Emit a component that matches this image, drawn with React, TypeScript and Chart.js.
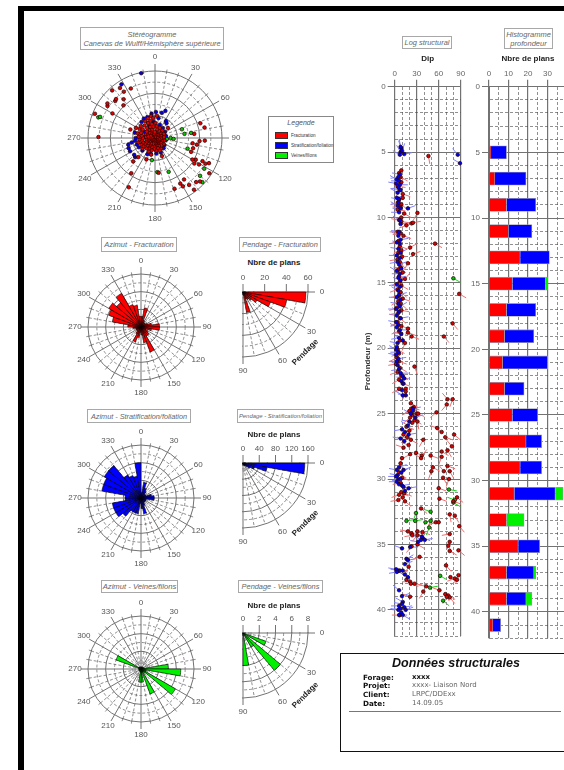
import React, { useEffect, useRef } from "react";
import { Chart, registerables } from "chart.js";
Chart.register(...registerables);

const FONT = '"Liberation Sans", Arial, sans-serif';
const GREY = "#727272";
const DASH = "#444444";
const RED = "#ff0000";
const BLUE = "#0000ff";
const GREEN = "#00f000";

// ---- Rose diagrams: count per 10 degree azimuth sector, 0..350
const azimuthLabels = ["0","10","20","30","40","50","60","70","80","90","100","110","120","130","140","150","160","170","180","190","200","210","220","230","240","250","260","270","280","290","300","310","320","330","340","350"];
const azimuthFracturation = [12,22,8,6,6,6,8,12,21,21,12,6,9,12,12,30,18,9,6,12,18,9,6,6,6,6,9,15,33,39,42,36,44,27,25,12];
const azimuthStratification = [6,18,12,9,6,6,6,12,15,15,6,6,6,6,6,9,18,12,6,18,18,18,27,33,33,33,18,18,45,45,48,48,30,27,25,40];
const azimuthVeines = [2,2,2,2,2,2,3,4,31,45,6,6,45,6,4,30,4,15,15,3,2,2,2,2,2,2,2,2,3,30,3,2,2,2,2,2];

// ---- Pendage quarter diagrams: count per 10 degree dip class, 0..80
const pendageFracturation = [58,41,27,15,10,8,7,19,3];
const pendageStratification = [152,60,30,20,12,8,6,5,4];
const pendageVeines = [0,0,3,0,6,2,0,0,4];

// ---- Stereogram poles: [azimuth, dip]
const stereoRed = [[318,86],[325,82],[326,75],[334,74],[315,74],[321,67],[316,61],[306,79],[304,77],[313,73],[300,66],[292,87],[271,76],[72,64],[78,68],[84,53],[94,60],[93,67],[98,51],[99,57],[105,53],[111,52],[120,58],[118,62],[123,63],[121,69],[116,71],[117,76],[115,80],[123,87],[137,81],[134,84],[145,68],[151,70],[144,78],[150,75],[143,87],[159,73],[208,75],[214,57],[223,43],[221,34],[202,31],[193,23],[159,26],[174,47],[289,35],[298,29],[52,22],
[350,30],[355,27],[5,30],[345,24],[340,28],[335,22],[330,26],[320,22],[310,25],[305,20],[300,24],[290,20],[285,24],[280,18],[275,22],[270,16],[265,21],[260,18],[255,23],[250,17],[245,20],[240,15],[235,19],[230,22],[225,14],[220,18],[215,12],[210,16],[205,20],[200,13],[195,17],[190,11],[185,15],[180,12],[175,17],[170,10],[165,14],[160,18],[155,12],[150,16],[145,9],[140,13],[130,11],[125,14],[115,10],[105,13],[95,8],[85,12],[75,9],[65,13],[55,10],[45,14],[35,11],[25,15],[15,12],[8,16],[2,20],[352,15],[347,19],[342,12],[337,16],[328,13],[322,17],[316,10],[308,14],[298,10],[292,13],[283,9],[276,12],[268,8],[262,11],[253,9],[247,12],[238,8],[232,11],[223,7],[217,9],[208,6],[198,8],[188,5],[178,7],[168,5],[152,6],[135,5],[110,6],[90,4],[70,5],[50,6],[30,5],[12,7],[358,8],[348,6],[332,7],[318,5],[302,6],[286,4],[272,5],[256,5],[241,4],[226,3],[196,3],[160,3],[120,2],[60,2],[340,3],[300,2]];
const stereoBlue = [[348,89],[328,85],[15,35],[21,39],[33,27],[38,25],[256,37],[249,38],[242,38],[259,32],[231,36],[226,37],
[352,33],[2,35],[10,27],[340,30],[330,30],[320,28],[285,28],[270,26],[262,27],[250,26],[240,25],[225,24],[205,24],[195,22],[175,21],[158,21],[140,18],[128,16],[100,15],[80,15],[58,16],[38,17],[20,19],[355,22],[335,18],[300,16],[275,15]];
const stereoGreen = [[290,81],[291,79],[72,38],[82,40],[82,49],[93,25],[90,21],[95,16],[108,46],[188,30],[176,46],[158,49],[133,87],[130,79],[122,78]];

// ---- Structural log: [depth, dip, azimuth]
const logRed = [[5.3,46,170],[6.4,9,200],[6.6,6,150],[6.9,8,120],[7.3,9,250],[7.6,4,100],[7.9,7,210],[8.2,11,110],[8.5,11,240],[8.6,6,150],[8.8,5,250],[9.0,9,130],[9.2,8,270],[9.4,4,100],[9.65,31,210],[9.7,13,120],[10.0,9,250],[10.3,9,100],[10.45,23,260],[10.4,25,80],[10.6,16,250],[10.2,6,280],[11.1,4,270],[11.4,12,110],[11.2,8,260],[11.8,5,250],[12,55,120],[12.3,21,60],[12.2,7,110],[12.5,9,250],[12.8,25,70],[12.7,5,120],[13.0,10,240],[13.2,4,260],[13.5,18,210],[13.4,7,140],[13.8,8,250],[14.0,5,110],[14.2,11,260],[14.5,6,120],[14.7,14,40],[14.9,7,240],[15.2,9,120],[15.5,4,250],[15.84,88,120],[15.7,8,130],[16.0,6,260],[16.2,11,110],[16.4,5,240],[16.6,8,130],[16.9,3,250],[17.1,9,100],[17.3,5,260],[17.7,7,130],[18.0,4,240],[18.1,79,140],[18.3,9,110],[18.5,18,200],[18.7,6,250],[18.8,18,110],[19.1,23,110],[19.1,67,140],[19.4,7,240],[19.6,14,200],[20.1,4,120],[20.4,6,250],[20.7,3,240],[21.0,6,110],[21.2,2,260],[21.4,27,160],[21.5,7,120],[21.8,4,250],[22.1,9,120],[22.4,6,240],[22.7,11,110],[23.1,6,240],[23.1,15,170],[23.3,15,200],[23.9,72,320],[23.9,79,200],[24.3,71,220],[24.9,57,230],[24.2,22,120],[24.5,26,150],[24.6,23,100],[24.8,20,240],[25.0,30,110],[25.1,24,150],[25.0,32,250],[25.3,21,230],[25.5,27,120],[25.6,31,170],[25.7,24,250],[26.1,58,290],[26.4,64,300],[26.8,69,110],[26.6,81,130],[26.0,16,110],[26.3,20,240],[26.6,12,130],[26.8,17,260],[27.0,39,210],[27.0,22,120],[27.4,19,290],[27.6,12,290],[28.0,29,110],[28.2,37,40],[28.4,36,300],[28.1,21,240],[28.4,10,200],[28.8,8,190],[28.2,49,110],[27.9,64,120],[27.8,72,150],[27.5,78,320],[28.3,64,200],[29.1,52,120],[29.4,50,200],[29.0,72,110],[29.4,75,150],[29.4,67,320],[29.9,66,150],[30.0,74,200],[29.5,6,130],[29.9,10,110],[30.3,8,260],[30.7,60,110],[31.0,9,120],[31.2,6,250],[31.1,13,110],[31.4,11,240],[31.5,61,110],[31.7,14,130],[31.6,5,260],[31.7,80,110],[31.4,85,130],[32.25,36,130],[33.3,56,250],[33.3,60,260],[32.7,75,170],[32.8,82,150],[33.6,88,140],[34.0,18,280],[34.15,23,100],[34.3,24,260],[34.0,31,120],[34.3,31,220],[34.05,38,110],[34.2,75,260],[34.8,75,200],[35.15,23,220],[35.0,31,120],[35.1,73,150],[35.5,75,120],[35.45,87,130],[35.95,34,250],[36.7,19,210],[37.7,16,120],[37.85,21,270],[38.0,22,110],[38.0,27,100],[36.6,70,140],[37.5,76,130],[37.6,82,250],[37.35,87,200],[37.7,85,230],[38.2,43,280],[38.6,39,210],[38.5,61,290],[38.8,69,150],[38.9,73,120],[39.05,75,140],[39.0,71,210],[39.0,21,290],[40.4,7,270]];
const logBlue = [[5.0,8,330],[4.7,9,340],[5.2,7,300],[4.9,10,20],[5.15,13,80],[4.6,8,350],[5.2,86,320],[5.85,89,300],[6.7,7,280],[6.9,5,260],[7.1,3,300],[7.2,6,270],[7.4,2,280],[7.5,7,90],[7.7,5,260],[7.9,8,280],[8.1,4,300],[8.5,3,70],[8.6,6,280],[8.9,5,260],[9.1,4,300],[9.3,8,270],[9.3,18,70],[9.6,6,270],[10.2,7,300],[10.5,8,80],[11.1,6,280],[11.4,5,300],[11.7,8,80],[11.9,3,260],[12.0,7,290],[12.4,5,280],[12.7,8,60],[12.9,3,270],[13.1,7,300],[13.4,4,260],[13.6,6,70],[13.9,9,280],[14.1,3,300],[14.3,7,270],[14.6,5,80],[14.8,8,290],[15.1,3,260],[15.3,7,280],[15.6,5,300],[15.9,6,75],[16.1,3,270],[16.3,8,290],[16.6,5,280],[16.8,7,60],[17.0,2,270],[17.2,6,300],[17.5,3,280],[17.7,8,80],[18.0,2,280],[18.2,5,260],[18.4,3,300],[18.6,7,90],[18.9,9,280],[19.2,6,260],[19.4,11,300],[19.6,4,280],[19.9,3,260],[20.1,2,300],[20.3,5,270],[20.5,2,280],[20.8,5,80],[21.0,3,270],[21.3,4,300],[21.6,6,260],[21.9,8,90],[22.1,11,290],[22.3,13,280],[22.5,9,70],[22.7,12,300],[23.2,10,260],[23.6,11,300],[23.6,15,280],[24.6,25,80],[24.8,25,260],[25.0,22,300],[25.3,28,70],[25.6,20,280],[25.9,18,300],[26.2,10,260],[26.4,14,70],[26.6,19,80],[26.9,8,280],[27.1,13,300],[29.1,6,70],[29.3,3,280],[29.5,9,60],[29.7,4,280],[29.8,2,270],[30.0,5,80],[30.0,8,260],[30.2,3,270],[30.4,6,300],[30.5,10,80],[30.6,12,100],[30.7,19,80],[29.3,12,70],[30.9,14,60],[34.5,38,110],[34.65,41,80],[34.65,36,300],[34.8,32,280],[34.4,37,300],[35.3,10,290],[35.2,21,90],[36.1,16,60],[36.2,18,80],[36.5,14,70],[37.0,5,280],[37.0,7,100],[36.9,2,280],[37.0,11,280],[37.1,3,260],[37.3,14,290],[37.5,18,300],[38.5,6,310],[38.95,10,70],[39.4,11,300],[39.55,10,280],[39.7,6,270],[39.8,13,80],[39.9,8,260],[40.0,5,280],[40.0,15,70],[40.2,9,300],[40.4,6,90],[40.4,11,120]];
const logGreen = [[14.65,80,120],[30.8,74,100],[31.8,80,120],[31.6,82,290],[32.6,29,200],[32.5,49,290],[33.2,16,80],[33.2,28,80],[33.3,42,70],[33.2,49,200],[33.7,47,200],[37.4,62,120],[38.3,48,80],[39.3,66,130]];

// ---- Histogram: number of planes per 2 m class
const histDepths = [5,7,9,11,13,15,17,19,21,23,25,27,29,31,33,35,37,39,41];
const histRed = [1,3,9,10,16,12,9,8,7,8,12,19,16,13,9,15,9,9,2];
const histBlue = [8,16,15,12,15,17,15,15,23,10,13,8,11,21,0,11,14,10,4];
const histGreen = [0,0,0,0,0,1,0,0,0,0,0,0,0,4,9,0,1,3,0];

const formation = [
  ["Forage:", "xxxx"],
  ["Projet:", "xxxx- Liaison Nord"],
  ["Client:", "LRPC/DDExx"],
  ["Date:", "14.09.05"],
];
const legendItems = [["Fracturation", RED], ["Stratification/foliation", BLUE], ["Veines/filons", GREEN]];

function ChartCanvas({ left, top, width, height, make }: any) {
  const ref = useRef<HTMLCanvasElement>(null);
  useEffect(() => {
    const c = new Chart(ref.current as HTMLCanvasElement, make());
    return () => c.destroy();
  }, []);
  return <canvas ref={ref} width={width} height={height} style={{ position: "absolute", left, top, width, height, display: "block" }} />;
}

function radialScale(max: number, step: number, binsPerTen: number, startAngle = 0) {
  return {
    type: "radialLinear",
    min: 0,
    max,
    startAngle,
    beginAtZero: true,
    ticks: { display: false, stepSize: step },
    pointLabels: { display: false },
    grid: {
      circular: true,
      color: (c: any) => (Math.round(c.tick.value / step) % 2 === 0 ? GREY : DASH),
      lineWidth: (c: any) => (Math.round(c.tick.value / step) % 2 === 0 ? 1 : 0.6),
    },
    border: { dash: (c: any) => (Math.round(c.tick.value / step) % 2 === 0 ? [] : [3, 2]) },
    angleLines: {
      display: true,
      color: (c: any) => (c.index % (3 * binsPerTen) === 0 ? GREY : DASH),
      lineWidth: (c: any) => (c.index % binsPerTen !== 0 ? 0 : c.index % (3 * binsPerTen) === 0 ? 1 : 0.6),
      borderDash: (c: any) => (c.index % (3 * binsPerTen) === 0 ? [] : [3, 2]),
    },
  };
}

function fullRoseDecor(binsPerTen: number, labelGap: number, spokeExt: number) {
  return {
    id: "decor",
    afterDraw(chart: any) {
      const s = chart.scales.r;
      const R = s.drawingArea;
      const ctx = chart.ctx;
      ctx.save();
      for (let deg = 0; deg < 360; deg += 10) {
        const i = (deg / 10) * binsPerTen;
        const major = deg % 30 === 0;
        const a = s.getPointPosition(i, R);
        const b = s.getPointPosition(i, R + (major ? spokeExt : 2.5));
        ctx.strokeStyle = major ? GREY : DASH;
        ctx.lineWidth = major ? 1 : 0.6;
        ctx.beginPath();
        ctx.moveTo(a.x, a.y);
        ctx.lineTo(b.x, b.y);
        ctx.stroke();
        if (major) {
          const t = s.getPointPosition(i, R + labelGap);
          ctx.fillStyle = "#555";
          ctx.font = `8px ${FONT}`;
          ctx.textAlign = "center";
          ctx.textBaseline = "middle";
          ctx.fillText(String(deg), t.x, t.y);
        }
      }
      ctx.restore();
    },
  };
}

function quarterDecor(axisValues: number[]) {
  return {
    id: "decor",
    beforeDraw(chart: any) {
      const s = chart.scales.r;
      const ctx = chart.ctx;
      ctx.save();
      ctx.beginPath();
      ctx.rect(s.xCenter - 1, s.yCenter - 1, s.drawingArea + 2, s.drawingArea + 2);
      ctx.clip();
    },
    afterDraw(chart: any) {
      const s = chart.scales.r;
      const R = s.drawingArea;
      const ctx = chart.ctx;
      ctx.restore();
      ctx.save();
      ctx.fillStyle = "#555";
      ctx.font = `8px ${FONT}`;
      ctx.textAlign = "center";
      ctx.textBaseline = "middle";
      ctx.strokeStyle = GREY;
      ctx.lineWidth = 1;
      [0, 3, 6, 9].forEach((i) => {
        const a = s.getPointPosition(i, R);
        const b = s.getPointPosition(i, R + 7);
        ctx.beginPath();
        ctx.moveTo(a.x, a.y);
        ctx.lineTo(b.x, b.y);
        ctx.stroke();
        const t = s.getPointPosition(i, R + 14);
        ctx.fillText(String(i * 10), t.x, t.y);
      });
      axisValues.forEach((v) => {
        const x = s.xCenter + s.getDistanceFromCenterForValue(v);
        ctx.beginPath();
        ctx.moveTo(x, s.yCenter);
        ctx.lineTo(x, s.yCenter - 8);
        ctx.stroke();
        ctx.fillText(String(v), x, s.yCenter - 14);
      });
      ctx.restore();
    },
  };
}

function roseConfig(values: number[], color: string) {
  return () => ({
    type: "polarArea",
    data: { labels: azimuthLabels, datasets: [{ data: values, backgroundColor: color, borderColor: "#000", borderWidth: 0.6 }] },
    options: {
      animation: false, responsive: false,
      layout: { padding: 30 },
      plugins: { legend: { display: false }, tooltip: { enabled: false } },
      scales: { r: radialScale(60, 10, 1) },
    },
    plugins: [fullRoseDecor(1, 13, 7)],
  });
}

function pendageConfig(values: number[], color: string, max: number, step: number, axisValues: number[]) {
  const padded = azimuthLabels.map((_, i) => (i < values.length ? values[i] : 0));
  return () => ({
    type: "polarArea",
    data: { labels: azimuthLabels, datasets: [{ data: padded, backgroundColor: color, borderColor: "#000", borderWidth: 0.6 }] },
    options: {
      animation: false, responsive: false,
      layout: { padding: 25 },
      plugins: { legend: { display: false }, tooltip: { enabled: false } },
      scales: { r: radialScale(max, step, 1, 90) },
    },
    plugins: [quarterDecor(axisValues)],
  });
}

const degreeLabels = Array.from({ length: 360 }, (_, i) => String(i));
function stereoLayers(points: number[][], color: string, label: string) {
  const layers: any[] = [];
  points.forEach(([az, dip]) => {
    let l = layers.find((d) => d[az % 360] === null);
    if (!l) {
      l = degreeLabels.map(() => null);
      layers.push(l);
    }
    l[az % 360] = dip;
  });
  return layers.map((data) => ({
    label, data, showLine: false, pointRadius: 1.8, pointBorderWidth: 0.7,
    pointBackgroundColor: color, pointBorderColor: "#200000", backgroundColor: "rgba(0,0,0,0)", borderColor: "rgba(0,0,0,0)",
  }));
}

const stereoConfig = () => ({
  type: "radar",
  data: {
    labels: degreeLabels,
    datasets: [...stereoLayers(stereoRed, "#e00000", "Fracturation"), ...stereoLayers(stereoGreen, "#00c800", "Veines/filons"), ...stereoLayers(stereoBlue, "#0000f0", "Stratification/foliation")],
  },
  options: {
    animation: false, responsive: false,
    layout: { padding: 30 },
    plugins: { legend: { display: false }, tooltip: { enabled: false } },
    scales: { r: radialScale(90, 15, 10) },
  },
  plugins: [fullRoseDecor(10, 14, 7)],
});

function tailDataset(points: number[][], color: string) {
  return {
    data: points.map((p) => ({ x: p[1], y: p[0] })),
    pointStyle: "dash", pointRadius: 8, pointBorderWidth: 1, pointBorderColor: color, clip: false,
    pointRotation: points.map((p) => p[2] - 90),
  };
}
function headDataset(points: number[][], color: string) {
  return {
    data: points.map((p) => ({ x: p[1], y: p[0] })),
    pointRadius: 1.8, pointBorderWidth: 0.7, pointBorderColor: "#200000", pointBackgroundColor: color, clip: false,
  };
}

function depthAxis(width: number, title?: string, stacked = false) {
  return {
    type: "linear", reverse: true, min: 0, max: 42, offset: false, stacked,
    afterFit: (s: any) => { s.width = width; },
    title: title ? { display: true, text: title, color: "#333", font: { size: 8, weight: "bold", family: FONT }, padding: { top: 3, bottom: 0 } } : { display: false },
    ticks: {
      stepSize: 1, autoSkip: false, padding: 2, color: "#666", font: { size: 8, family: FONT },
      callback: (v: number) => (v % 5 === 0 && v <= 40 ? String(v) : ""),
    },
    grid: {
      offset: false, tickLength: 7,
      color: (c: any) => (c.tick.value % 5 === 0 ? GREY : DASH),
      lineWidth: (c: any) => (c.tick.value % 5 === 0 ? 1 : 0.6),
      tickColor: (c: any) => (c.tick.value % 5 === 0 ? GREY : "rgba(0,0,0,0)"),
    },
    border: { color: GREY, dash: (c: any) => (c.tick && c.tick.value % 5 === 0 ? [] : [3, 2]) },
  };
}
function topAxis(max: number, step: number, major: number, title: string, height: number, stacked = false) {
  return {
    type: "linear", position: "top", min: 0, max, stacked,
    afterFit: (s: any) => { s.height = height; },
    title: { display: true, text: title, color: "#222", font: { size: 8, weight: "bold", family: FONT }, padding: { top: 4, bottom: 0 } },
    ticks: {
      stepSize: step, autoSkip: false, maxRotation: 0, padding: 1, color: "#666", font: { size: 8, family: FONT },
      callback: (v: number) => (v % major === 0 && (max === 90 || v < max) ? String(v) : ""),
    },
    grid: {
      tickLength: 7,
      color: (c: any) => (c.tick.value % major === 0 ? GREY : DASH),
      lineWidth: (c: any) => (c.tick.value % major === 0 ? 1.2 : 0.6),
      tickColor: (c: any) => (c.tick.value % major === 0 ? GREY : "rgba(0,0,0,0)"),
    },
    border: { color: GREY, dash: (c: any) => (c.tick && c.tick.value % major === 0 ? [] : [3, 2]) },
  };
}

const logConfig = () => ({
  type: "scatter",
  data: {
    datasets: [headDataset(logBlue, "#0000f0"), headDataset(logRed, "#d80000"), headDataset(logGreen, "#00c000"),
      tailDataset(logRed, "#f07070"), tailDataset(logBlue, "#8080ff"), tailDataset(logGreen, "#20d020")],
  },
  options: {
    animation: false, responsive: false,
    layout: { padding: { right: 9.3, bottom: 6 } },
    plugins: { legend: { display: false }, tooltip: { enabled: false } },
    scales: { x: topAxis(90, 10, 30, "Dip", 36.7), y: depthAxis(34.7, "Profondeur (m)") },
  },
});

const histConfig = () => {
  const ser = (vals: number[], color: string, label: string) => ({
    label, data: histDepths.map((d, i) => ({ x: vals[i], y: d })), backgroundColor: color,
    borderColor: "#9a9ab0", borderWidth: 0.8, barThickness: 13,
  });
  return {
    type: "bar",
    data: { datasets: [ser(histRed, RED, "Fracturation"), ser(histBlue, BLUE, "Stratification/foliation"), ser(histGreen, GREEN, "Veines/filons")] },
    options: {
      indexAxis: "y", animation: false, responsive: false,
      layout: { padding: { bottom: 6 } },
      plugins: { legend: { display: false }, tooltip: { enabled: false } },
      scales: { x: topAxis(40, 5, 10, "Nbre de plans", 36.7, true), y: depthAxis(29, undefined, true) },
    },
  };
};

function TitleBox({ l, t, w, h, lines, size = 7.4 }: any) {
  return (
    <div style={{ position: "absolute", left: l, top: t, width: w, height: h, boxSizing: "border-box", border: "1.5px solid #a8a8a8", background: "#fff", display: "flex", flexDirection: "column", alignItems: "center", justifyContent: "center", font: `italic ${size}px/9px ${FONT}`, color: "#666", whiteSpace: "nowrap" }}>
      {lines.map((s: string) => <div key={s}>{s}</div>)}
    </div>
  );
}
function Txt({ x, y, children, style }: any) {
  return <div style={{ position: "absolute", left: x, top: y, transform: "translate(-50%,-50%)", whiteSpace: "nowrap", ...style }}>{children}</div>;
}
const boldSmall = { font: `bold 8px ${FONT}`, color: "#222" };

export default function App() {
  useEffect(() => { document.body.style.margin = "0"; document.body.style.background = "#fff"; }, []);
  const roseBox = (cx: number, cy: number, R: number, pad: number) => ({ left: cx - R - pad, top: cy - R - pad, width: 2 * (R + pad), height: 2 * (R + pad) });
  return (
    <div style={{ position: "fixed", left: 0, top: 0, width: 564, height: 770, overflow: "hidden", background: "#fff", filter: "blur(0.55px)" }}>
      <div style={{ position: "absolute", left: 18, top: 6, width: 6, height: 764, background: "#000" }} />
      <div style={{ position: "absolute", left: 18, top: 6, width: 546, height: 5, background: "#000" }} />

      <TitleBox l={80} t={27} w={144} h={23} lines={["Stéréogramme", "Canevas de Wulff/Hémisphère supérieure"]} />
      <ChartCanvas {...roseBox(155, 138, 67, 30)} make={stereoConfig} />

      <div style={{ position: "absolute", left: 268, top: 116, width: 66, height: 47, boxSizing: "border-box", border: "1.5px solid #888", background: "#fff" }}>
        <div style={{ position: "absolute", left: 0, right: 0, top: 2, textAlign: "center", font: `italic 7px ${FONT}`, color: "#555" }}>Legende</div>
        {legendItems.map(([name, color], i) => (
          <div key={name} style={{ position: "absolute", left: 6, top: 15 + i * 10, display: "flex", alignItems: "center" }}>
            <div style={{ width: 13, height: 6.5, background: color, border: "0.7px solid #333", boxSizing: "border-box" }} />
            <span style={{ marginLeft: 3, font: `4.6px ${FONT}`, color: "#333", whiteSpace: "nowrap" }}>{name}</span>
          </div>
        ))}
      </div>

      <TitleBox l={101} t={237} w={76} h={15} size={7.5} lines={["Azimut - Fracturation"]} />
      <TitleBox l={239} t={237} w={82} h={15} lines={["Pendage - Fracturation"]} />
      <ChartCanvas {...roseBox(141, 327, 53, 30)} make={roseConfig(azimuthFracturation, RED)} />
      <Txt x={274} y={262} style={boldSmall}>Nbre de plans</Txt>
      <ChartCanvas {...roseBox(243, 292, 65, 25)} make={pendageConfig(pendageFracturation, RED, 60, 10, [0, 20, 40, 60])} />
      <Txt x={305} y={352} style={{ ...boldSmall, transform: "translate(-50%,-50%) rotate(-45deg)" }}>Pendage</Txt>

      <TitleBox l={87} t={409} w={104} h={14} size={7.3} lines={["Azimut - Stratification/foliation"]} />
      <TitleBox l={237} t={409} w={87} h={14} size={5.9} lines={["Pendage - Stratification/foliation"]} />
      <ChartCanvas {...roseBox(141, 498, 53, 30)} make={roseConfig(azimuthStratification, BLUE)} />
      <Txt x={274} y={434} style={boldSmall}>Nbre de plans</Txt>
      <ChartCanvas {...roseBox(243, 463, 65, 25)} make={pendageConfig(pendageStratification, BLUE, 160, 20, [0, 40, 80, 120, 160])} />
      <Txt x={305} y={523} style={{ ...boldSmall, transform: "translate(-50%,-50%) rotate(-45deg)" }}>Pendage</Txt>

      <TitleBox l={101} t={580} w={77} h={13} size={7.7} lines={["Azimut - Veines/filons"]} />
      <TitleBox l={238} t={580} w={85} h={13} lines={["Pendage - Veines/filons"]} />
      <ChartCanvas {...roseBox(141, 669, 53, 30)} make={roseConfig(azimuthVeines, GREEN)} />
      <Txt x={274} y={605} style={boldSmall}>Nbre de plans</Txt>
      <ChartCanvas {...roseBox(243, 633, 65, 25)} make={pendageConfig(pendageVeines, GREEN, 8, 1, [0, 2, 4, 6, 8])} />
      <Txt x={305} y={695} style={{ ...boldSmall, transform: "translate(-50%,-50%) rotate(-45deg)" }}>Pendage</Txt>

      <TitleBox l={402} t={36} w={50} h={13} lines={["Log structural"]} />
      <TitleBox l={504} t={28} w={49} h={21} size={7.5} lines={["Histogramme", "profondeur"]} />
      <ChartCanvas left={360} top={50} width={110} height={595} make={logConfig} />
      <ChartCanvas left={460} top={50} width={108} height={595} make={histConfig} />

      <div style={{ position: "absolute", left: 340, top: 653, width: 240, height: 99, boxSizing: "border-box", border: "1.5px solid #111", background: "#fff" }}>
        <div style={{ position: "absolute", left: 0, width: 230, top: 2, textAlign: "center", font: `italic bold 12.5px ${FONT}`, color: "#111" }}>Données structurales</div>
        {formation.map(([k, v], i) => (
          <React.Fragment key={k}>
            <div style={{ position: "absolute", left: 22, top: 18.5 + i * 8.7, font: `bold 7.2px "DejaVu Sans"`, color: "#111" }}>{k}</div>
            <div style={{ position: "absolute", left: 71, top: 18.5 + i * 8.7, font: `${i === 0 ? "bold " : ""}7px "DejaVu Sans"`, color: i === 0 ? "#111" : "#666" }}>{v}</div>
          </React.Fragment>
        ))}
        <div style={{ position: "absolute", left: 8, width: 212, top: 57, height: 1, background: "#777" }} />
      </div>
    </div>
  );
}
